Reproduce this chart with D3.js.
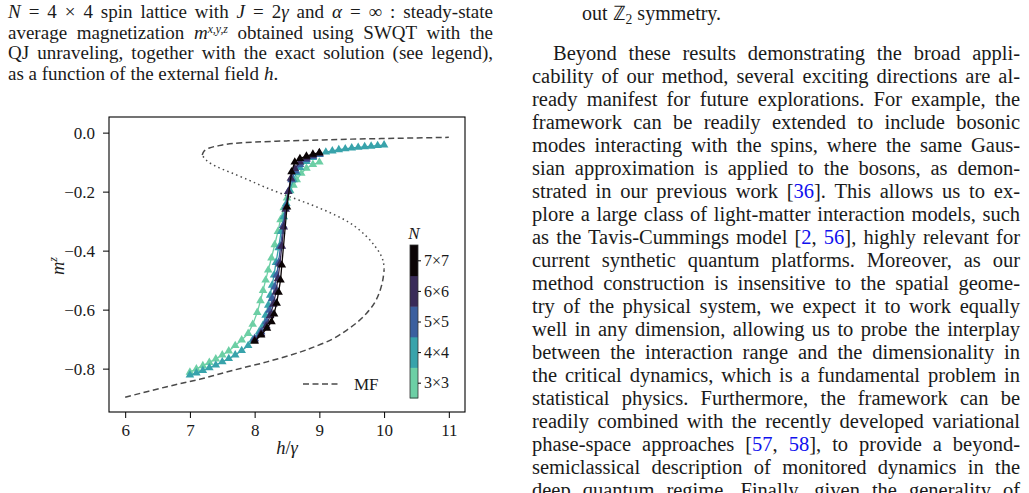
<!DOCTYPE html>
<html><head><meta charset="utf-8">
<script src="https://cdn.jsdelivr.net/npm/d3@7"></script>
<style>
body{margin:0;background:#fff;overflow:hidden;}
svg text{font-family:"Liberation Serif","Times New Roman",serif;}
</style></head><body>
<svg id="page" width="1029" height="493"></svg>
<script>
// ---------------- data ----------------
const sizes  = ["3×3","4×4","5×5","6×6","7×7"];
const colors = ["#6ccfa5","#38a3ab","#3b5f9f","#392b59","#0b0405"];

const h3 = [7.0,7.1,7.2,7.3,7.4,7.5,7.6,7.7,7.8,7.9,7.97,8.04,8.09,8.13,8.17,8.21,8.26,8.31,8.36,8.40,8.45,8.50,8.55,8.60,8.65,8.72,8.80,8.90,9.0];
const m3 = [-0.812,-0.801,-0.790,-0.779,-0.767,-0.754,-0.740,-0.722,-0.703,-0.681,-0.650,-0.610,-0.570,-0.535,-0.500,-0.466,-0.425,-0.380,-0.335,-0.295,-0.255,-0.222,-0.197,-0.178,-0.160,-0.138,-0.121,-0.108,-0.100];

const h4 = [7.0,7.1,7.2,7.3,7.4,7.5,7.6,7.7,7.8,7.9,7.97,8.07,8.13,8.17,8.21,8.24,8.27,8.30,8.33,8.37,8.41,8.45,8.49,8.54,8.60,8.65,8.70,8.80,8.90,9.0,9.1,9.2,9.3,9.4,9.5,9.6,9.7,9.8,9.9,10.0];
const m4 = [-0.822,-0.815,-0.806,-0.797,-0.788,-0.777,-0.766,-0.754,-0.739,-0.722,-0.703,-0.675,-0.653,-0.619,-0.585,-0.551,-0.517,-0.483,-0.440,-0.390,-0.335,-0.285,-0.240,-0.195,-0.160,-0.135,-0.118,-0.098,-0.084,-0.074,-0.066,-0.062,-0.058,-0.055,-0.052,-0.050,-0.048,-0.046,-0.044,-0.042];

const h5 = [8.0,8.1,8.18,8.23,8.27,8.31,8.34,8.37,8.40,8.44,8.48,8.52,8.57,8.63,8.7,8.8,8.9,9.0];
const m5 = [-0.698,-0.675,-0.641,-0.602,-0.562,-0.523,-0.483,-0.440,-0.385,-0.315,-0.252,-0.200,-0.160,-0.130,-0.108,-0.091,-0.081,-0.073];

const h6 = [8.0,8.1,8.18,8.24,8.29,8.33,8.36,8.39,8.42,8.45,8.48,8.52,8.56,8.62,8.7,8.8,8.9,9.0];
const m6 = [-0.703,-0.682,-0.655,-0.620,-0.582,-0.540,-0.495,-0.445,-0.385,-0.320,-0.260,-0.200,-0.155,-0.122,-0.100,-0.086,-0.077,-0.070];

const h7 = [8.0,8.1,8.19,8.26,8.30,8.34,8.37,8.40,8.42,8.50,8.57,8.62,8.70,8.80,8.90,9.0];
const m7 = [-0.707,-0.686,-0.663,-0.641,-0.615,-0.578,-0.541,-0.500,-0.449,-0.252,-0.133,-0.100,-0.088,-0.080,-0.073,-0.068];

// mean-field solution: stable lower, unstable (dotted), stable upper
const mfLowH = [6.00,6.63,7.15,7.66,8.19,8.70,8.90,9.20,9.42,9.60,9.73,9.85,9.93,9.98,10.0];
const mfLowM = [-0.897,-0.862,-0.836,-0.806,-0.777,-0.744,-0.728,-0.700,-0.670,-0.640,-0.612,-0.578,-0.540,-0.500,-0.465];
const mfMidH = [10.0,9.99,9.95,9.86,9.72,9.50,9.25,8.96,8.70,8.43,8.15,7.92,7.65,7.41,7.26,7.19];
const mfMidM = [-0.465,-0.440,-0.415,-0.385,-0.350,-0.310,-0.280,-0.252,-0.230,-0.208,-0.184,-0.162,-0.137,-0.115,-0.095,-0.076];
const mfUpH  = [7.19,7.22,7.30,7.45,7.66,8.0,8.5,9.0,9.5,10.0,10.5,11.0];
const mfUpM  = [-0.076,-0.062,-0.052,-0.044,-0.037,-0.032,-0.028,-0.025,-0.022,-0.020,-0.018,-0.016];

const xTicks = [6,7,8,9,10,11];
const yTicks = [0,-0.2,-0.4,-0.6,-0.8];

// ---------------- text ----------------
const captionLines = [
  [["N","i"]," = 4 × 4 spin lattice with ",["J","i"]," = 2",["γ","i"]," and ",["α","i"]," = ∞ : steady-state"],
  ["average magnetization ",["m","i"],["x,y,z","sup"]," obtained using SWQT with the"],
  ["QJ unraveling, together with the exact solution (see legend),"],
  ["as a function of the external field ",["h","i"],"."]
];
const bodyLines = [
  ["Beyond these results demonstrating the broad appli-"],
  ["cability of our method, several exciting directions are al-"],
  ["ready manifest for future explorations. For example, the"],
  ["framework can be readily extended to include bosonic"],
  ["modes interacting with the spins, where the same Gaus-"],
  ["sian approximation is applied to the bosons, as demon-"],
  ["strated in our previous work [",["36","b"],"]. This allows us to ex-"],
  ["plore a large class of light-matter interaction models, such"],
  ["as the Tavis-Cummings model [",["2","b"],", ",["56","b"],"], highly relevant for"],
  ["current synthetic quantum platforms. Moreover, as our"],
  ["method construction is insensitive to the spatial geome-"],
  ["try of the physical system, we expect it to work equally"],
  ["well in any dimension, allowing us to probe the interplay"],
  ["between the interaction range and the dimensionality in"],
  ["the critical dynamics, which is a fundamental problem in"],
  ["statistical physics. Furthermore, the framework can be"],
  ["readily combined with the recently developed variational"],
  ["phase-space approaches [",["57","b"],", ",["58","b"],"], to provide a beyond-"],
  ["semiclassical description of monitored dynamics in the"],
  ["deep quantum regime. Finally, given the generality of"]
];

const svg = d3.select("#page");

function richLine(x0, y0, width, segs, size, justify){
  const t = svg.append("text").attr("x",x0).attr("y",y0)
    .attr("font-size",size).attr("fill","#1a1a1a");
  let shift = 0;
  segs.forEach(s=>{
    const txt = typeof s==="string" ? s : s[0];
    const type = typeof s==="string" ? "n" : s[1];
    const ts = t.append("tspan").text(txt);
    let target = 0;
    if(type==="i") ts.attr("font-style","italic");
    if(type==="sup"){ ts.attr("font-size",size*0.62).attr("font-style","italic"); target = -size*0.3; }
    if(type==="sub"){ ts.attr("font-size",size*0.68); target = size*0.22; }
    if(type==="b") ts.attr("fill","#1010ee");
    if(target!==shift){ ts.attr("dy",target-shift); shift = target; }
  });
  if(justify){
    const full = segs.map(s=>typeof s==="string"?s:s[0]).join("");
    const n = (full.match(/ /g)||[]).length;
    const w0 = t.node().getComputedTextLength();
    if(n>0) t.style("word-spacing",((width-w0)/n)+"px");
  }
  return t;
}

captionLines.forEach((l,i)=>{
  richLine(8, 18 + i*20.7, 485, l, 19, i<3);
});
richLine(582, 20, 0, ["out ",["ℤ","n"],["2","sub"]," symmetry."], 20, false);
bodyLines.forEach((l,i)=>{
  const x0 = i===0 ? 553 : 532;
  richLine(x0, 60 + i*23, 1020-x0, l, 20.5, true);
});

// ---------------- chart ----------------
const x = d3.scaleLinear().domain([5.75,11.25]).range([109,465]);
const y = d3.scaleLinear().domain([-0.947,0.053]).range([412,117]);

svg.append("clipPath").attr("id","clip").append("rect")
  .attr("x",109).attr("y",117).attr("width",356).attr("height",295);
const plot = svg.append("g").attr("clip-path","url(#clip)");

const mfLine = d3.line().x(d=>x(d[0])).y(d=>y(d[1])).curve(d3.curveCatmullRom.alpha(0.5));
const zip = (a,b)=>a.map((v,i)=>[v,b[i]]);
plot.append("path").attr("d",mfLine(zip(mfLowH,mfLowM))).attr("fill","none")
  .attr("stroke","#4a4a4a").attr("stroke-width",1.5).attr("stroke-dasharray","6,3.5");
plot.append("path").attr("d",mfLine(zip(mfMidH,mfMidM))).attr("fill","none")
  .attr("stroke","#4a4a4a").attr("stroke-width",1.5).attr("stroke-dasharray","1.5,3.3");
plot.append("path").attr("d",mfLine(zip(mfUpH,mfUpM))).attr("fill","none")
  .attr("stroke","#4a4a4a").attr("stroke-width",1.5).attr("stroke-dasharray","6,3.5");

const seriesH = [h3,h4,h5,h6,h7];
const seriesM = [m3,m4,m5,m6,m7];
const tri = d3.symbol(d3.symbolTriangle, 32)();
seriesH.forEach((hs,i)=>{
  const pts = zip(hs, seriesM[i]);
  plot.append("path").attr("d",d3.line().x(d=>x(d[0])).y(d=>y(d[1]))(pts))
    .attr("fill","none").attr("stroke",colors[i]).attr("stroke-width",1.3);
  plot.append("g").selectAll("path").data(pts).join("path")
    .attr("transform",d=>`translate(${x(d[0])},${y(d[1])})`)
    .attr("d",tri).attr("fill",colors[i]);
});

// axes
const xAxis = svg.append("g").attr("transform","translate(0,412)")
  .call(d3.axisBottom(x).tickValues(xTicks).tickSize(6).tickPadding(6).tickFormat(d3.format("d")));
const yAxis = svg.append("g").attr("transform","translate(109,0)")
  .call(d3.axisLeft(y).tickValues(yTicks).tickSize(6).tickPadding(8).tickFormat(d3.format(".1f")));
[xAxis,yAxis].forEach(a=>{
  a.select(".domain").remove();
  a.selectAll("line").attr("stroke","#000").attr("stroke-width",1);
  a.selectAll("text").attr("font-size",17).attr("fill","#1a1a1a")
    .attr("font-family","Liberation Serif, serif");
});
svg.append("rect").attr("x",109).attr("y",117).attr("width",356).attr("height",295)
  .attr("fill","none").attr("stroke","#000").attr("stroke-width",1.1);

// axis labels
svg.append("text").attr("x",287).attr("y",454).attr("text-anchor","middle")
  .attr("font-size",18.5).attr("fill","#1a1a1a")
  .html('<tspan font-style="italic">h</tspan>/<tspan font-style="italic">γ</tspan>');
svg.append("text").attr("transform","translate(64,266) rotate(-90)").attr("text-anchor","middle")
  .attr("font-size",18.5).attr("fill","#1a1a1a")
  .html('<tspan font-style="italic">m</tspan><tspan font-style="italic" font-size="12" dy="-7">z</tspan>');

// legend
svg.append("line").attr("x1",303).attr("x2",341).attr("y1",384).attr("y2",384)
  .attr("stroke","#4a4a4a").attr("stroke-width",1.5).attr("stroke-dasharray","6,3.5");
svg.append("text").attr("x",354).attr("y",390).attr("font-size",17).attr("fill","#1a1a1a").text("MF");

// colorbar
const cb = d3.scaleBand().domain(sizes).range([398,245]);
svg.append("g").selectAll("rect").data(sizes).join("rect")
  .attr("x",410).attr("width",8).attr("y",d=>cb(d)).attr("height",cb.bandwidth()+0.5)
  .attr("fill",(d,i)=>colors[i]);
svg.append("rect").attr("x",410).attr("y",245).attr("width",8).attr("height",153)
  .attr("fill","none").attr("stroke","#333").attr("stroke-width",0.8);
const cbAxis = svg.append("g").attr("transform","translate(418,0)")
  .call(d3.axisRight(d3.scalePoint().domain(sizes).range([398-cb.bandwidth()/2,245+cb.bandwidth()/2])).tickSize(3).tickPadding(3));
cbAxis.select(".domain").remove();
cbAxis.selectAll("line").attr("stroke","#000");
cbAxis.selectAll("text").attr("font-size",16).attr("fill","#1a1a1a").attr("font-family","Liberation Serif, serif");
svg.append("text").attr("x",414).attr("y",239).attr("text-anchor","middle")
  .attr("font-size",17).attr("font-style","italic").attr("fill","#1a1a1a").text("N");
</script>
</body></html>
